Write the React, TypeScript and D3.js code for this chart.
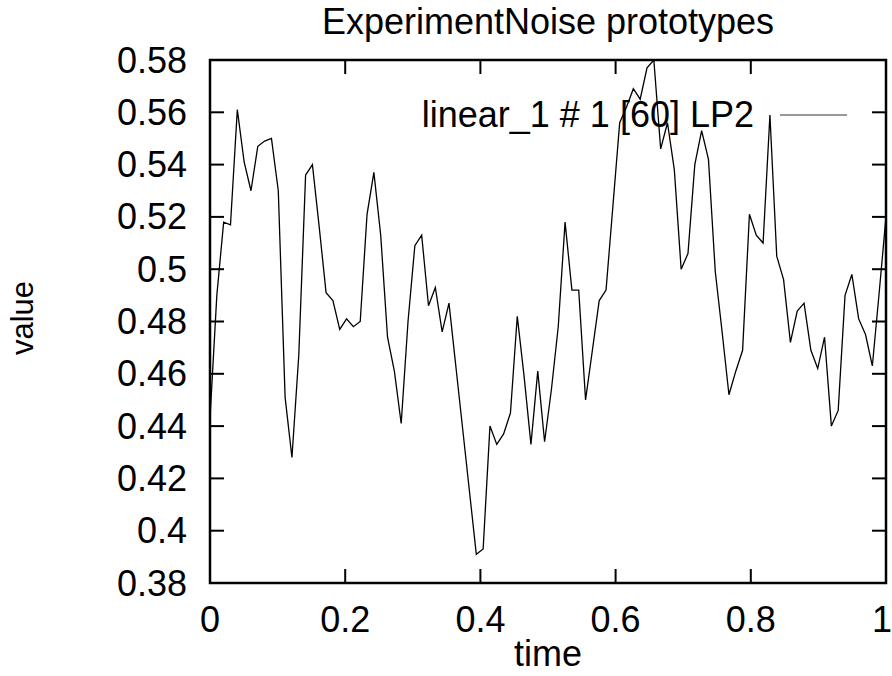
import React from "react";
import * as d3 from "d3";

const VALUES: number[] = [
  0.443, 0.49, 0.518, 0.517, 0.561, 0.541, 0.53, 0.547, 0.549, 0.55,
  0.53, 0.451, 0.428, 0.467, 0.536, 0.54, 0.516, 0.491, 0.488, 0.477,
  0.481, 0.478, 0.48, 0.521, 0.537, 0.513, 0.474, 0.461, 0.441, 0.48,
  0.509, 0.513, 0.486, 0.493, 0.476, 0.487, 0.463, 0.439, 0.415, 0.391,
  0.393, 0.44, 0.433, 0.437, 0.445, 0.482, 0.459, 0.433, 0.461, 0.434,
  0.454, 0.478, 0.518, 0.492, 0.492, 0.45, 0.469, 0.488, 0.492, 0.524,
  0.556, 0.562, 0.569, 0.565, 0.577, 0.58, 0.546, 0.556, 0.538, 0.5,
  0.506, 0.54, 0.553, 0.542, 0.499, 0.476, 0.452, 0.461, 0.469, 0.521,
  0.513, 0.51, 0.559, 0.505, 0.496, 0.472, 0.484, 0.487, 0.469, 0.462,
  0.474, 0.44, 0.446, 0.49, 0.498, 0.481, 0.475, 0.463, 0.491, 0.52,
];
const TIMES: number[] = VALUES.map((_, i) => i / (VALUES.length - 1));

const X_TICKS: number[] = [0, 0.2, 0.4, 0.6, 0.8, 1];
const Y_TICKS: number[] = [0.38, 0.4, 0.42, 0.44, 0.46, 0.48, 0.5, 0.52, 0.54, 0.56, 0.58];

const TITLE = "ExperimentNoise prototypes";
const X_LABEL = "time";
const Y_LABEL = "value";
const LEGEND = "linear_1 # 1 [60] LP2";

const W = 892;
const H = 676;
const L = 210;
const R = 886;
const T = 60;
const B = 583;
const FONT = "'Liberation Sans', Arial, Helvetica, sans-serif";
const FS = 36;
const TICK = 14;

export default function App() {
  const x = d3.scaleLinear().domain([0, 1]).range([L, R]);
  const y = d3.scaleLinear().domain([0.38, 0.58]).range([B, T]);
  const line = d3
    .line<number>()
    .x((_, i) => x(TIMES[i]))
    .y((d) => y(d));
  const fmt = (v: number) => d3.format("")(+v.toFixed(2));

  return (
    <svg
      width={W}
      height={H}
      style={{ position: "absolute", left: 0, top: 0, background: "#fff" }}
      fontFamily={FONT}
    >
      <rect x={0} y={0} width={W} height={H} fill="#fff" />
      <defs>
        <clipPath id="plotclip">
          <rect x={L} y={T} width={R - L} height={B - T} />
        </clipPath>
      </defs>
      {Y_TICKS.map((v) => (
        <g key={"y" + v}>
          <line x1={L} x2={L + TICK} y1={y(v)} y2={y(v)} stroke="#000" strokeWidth={2} />
          <line x1={R} x2={R - TICK} y1={y(v)} y2={y(v)} stroke="#000" strokeWidth={2} />
          <text x={187} y={y(v) + 12.5} textAnchor="end" fontSize={FS} fill="#000">
            {fmt(v)}
          </text>
        </g>
      ))}
      {X_TICKS.map((v) => (
        <g key={"x" + v}>
          <line x1={x(v)} x2={x(v)} y1={B} y2={B - TICK} stroke="#000" strokeWidth={2} />
          <line x1={x(v)} x2={x(v)} y1={T} y2={T + TICK} stroke="#000" strokeWidth={2} />
          <text
            x={Math.min(x(v), W - 10)}
            y={632}
            textAnchor="middle"
            fontSize={FS}
            fill="#000"
          >
            {fmt(v)}
          </text>
        </g>
      ))}
      <path
        d={line(VALUES) || ""}
        fill="none"
        stroke="#000"
        strokeWidth={1.3}
        clipPath="url(#plotclip)"
      />
      <rect x={L} y={T} width={R - L} height={B - T} fill="none" stroke="#000" strokeWidth={2.5} />
      <text x={754} y={127} textAnchor="end" fontSize={FS} fill="#000">
        {LEGEND}
      </text>
      <line x1={780} x2={847} y1={115} y2={115} stroke="#333" strokeWidth={1} />
      <text x={548} y={34} textAnchor="middle" fontSize={FS} fill="#000">
        {TITLE}
      </text>
      <text x={548} y={666} textAnchor="middle" fontSize={FS} fill="#000">
        {X_LABEL}
      </text>
      <text
        transform={`translate(33,318) rotate(-90)`}
        textAnchor="middle"
        fontSize={31}
        fill="#000"
      >
        {Y_LABEL}
      </text>
    </svg>
  );
}
